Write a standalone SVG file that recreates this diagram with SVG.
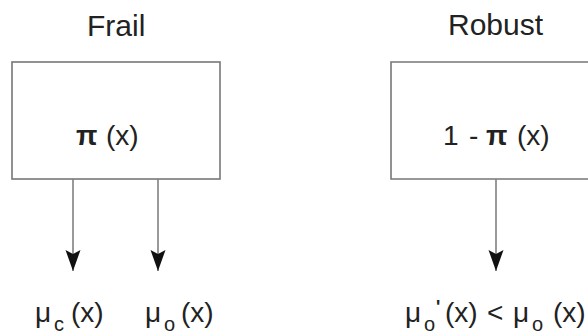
<svg xmlns="http://www.w3.org/2000/svg" width="588" height="336" viewBox="0 0 588 336">
  <style>
    .box { fill: #ffffff; stroke: #777777; stroke-width: 1.6; }
    .title { font-family: "Liberation Sans", Arial, sans-serif; font-size: 30px; fill: #222222; }
    .lbl { font-family: "Liberation Sans", Arial, sans-serif; font-size: 28px; fill: #222222; }
    .pi { font-weight: bold; }
    .sub { font-size: 20px; }
    .prime { font-size: 18px; font-weight: bold; }
    .conn { stroke: #808080; stroke-width: 1.6; fill: none; marker-end: url(#arrow); }
  </style>
  <defs>
    <marker id="arrow" markerUnits="userSpaceOnUse" viewBox="0 -8 22 16" refX="21" refY="0" markerWidth="22" markerHeight="16" orient="auto">
      <path d="M0,-7.5 L21,0 L0,7.5 L4,0 z" fill="#111111"/>
    </marker>
  </defs>
  <rect width="588" height="336" fill="#ffffff"/>

  <g id="frail">
    <text class="title" x="87" y="36">Frail</text>
    <rect class="box" x="12" y="62" width="208" height="117"/>
    <text class="lbl" y="145"><tspan class="pi" x="76">π</tspan><tspan x="106">(x)</tspan></text>
  </g>

  <g id="robust">
    <text class="title" x="448" y="35">Robust</text>
    <path class="box" d="M590,62 H391 V179 H590"/>
    <text class="lbl" y="145"><tspan x="443">1</tspan><tspan x="469">-</tspan><tspan class="pi" x="486">π</tspan><tspan x="517">(x)</tspan></text>
  </g>

  <g id="mu-c">
    <text class="lbl" y="322"><tspan x="35">μ</tspan><tspan class="sub" x="54" y="331">c</tspan><tspan x="71" y="322">(x)</tspan></text>
  </g>

  <g id="mu-o">
    <text class="lbl" y="322"><tspan x="145">μ</tspan><tspan class="sub" x="164" y="331">o</tspan><tspan x="181" y="322">(x)</tspan></text>
  </g>

  <g id="mu-o-prime">
    <text class="lbl" y="322"><tspan x="405">μ</tspan><tspan class="sub" x="424" y="331">o</tspan><tspan class="prime" x="436" y="313">'</tspan><tspan x="445" y="322">(x)</tspan><tspan x="487">&lt;</tspan><tspan x="513">μ</tspan><tspan class="sub" x="532" y="331">o</tspan><tspan x="553" y="322">(x)</tspan></text>
  </g>

  <g id="connectors">
    <line class="conn" x1="73" y1="179" x2="73" y2="271"/>
    <line class="conn" x1="158" y1="179" x2="158" y2="271"/>
    <line class="conn" x1="496" y1="179" x2="496" y2="271"/>
  </g>
</svg>
